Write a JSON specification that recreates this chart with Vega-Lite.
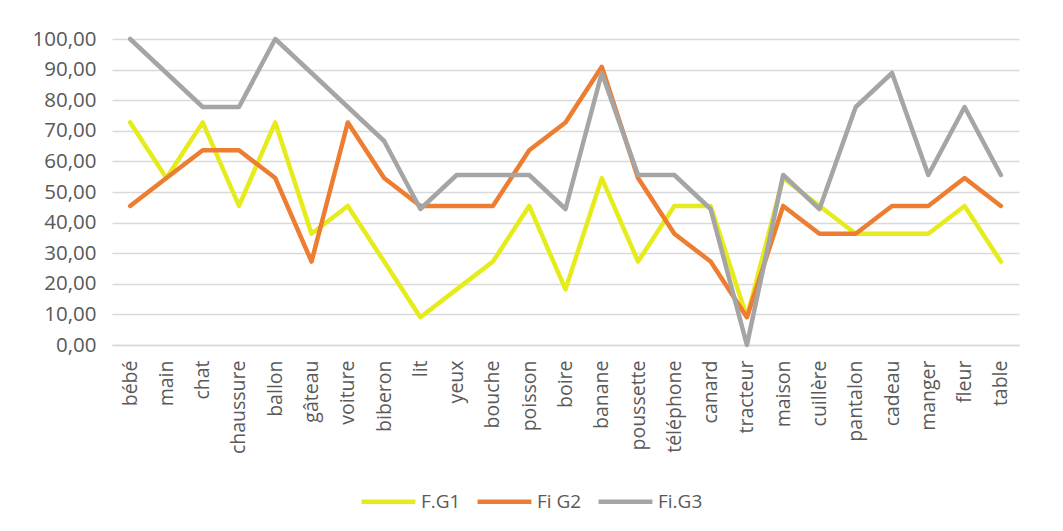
{
  "$schema": "https://vega.github.io/schema/vega-lite/v6.json",
  "width": 907,
  "height": 306,
  "autosize": "none",
  "padding": {"left": 112, "top": 39, "right": 44, "bottom": 186},
  "background": "white",
  "config": {
    "font": "Open Sans",
    "view": {"stroke": null},
    "axis": {"labelColor": "#595959", "labelFont": "Open Sans", "labelFontSize": 19.5, "ticks": false, "title": null}
  },
  "datasets": {
    "d": [
      {"mot": "bébé", "s": "F.G1", "v": 72.73}, {"mot": "bébé", "s": "Fi G2", "v": 45.45}, {"mot": "bébé", "s": "Fi.G3", "v": 100},
      {"mot": "main", "s": "F.G1", "v": 54.55}, {"mot": "main", "s": "Fi G2", "v": 54.55}, {"mot": "main", "s": "Fi.G3", "v": 88.89},
      {"mot": "chat", "s": "F.G1", "v": 72.73}, {"mot": "chat", "s": "Fi G2", "v": 63.64}, {"mot": "chat", "s": "Fi.G3", "v": 77.78},
      {"mot": "chaussure", "s": "F.G1", "v": 45.45}, {"mot": "chaussure", "s": "Fi G2", "v": 63.64}, {"mot": "chaussure", "s": "Fi.G3", "v": 77.78},
      {"mot": "ballon", "s": "F.G1", "v": 72.73}, {"mot": "ballon", "s": "Fi G2", "v": 54.55}, {"mot": "ballon", "s": "Fi.G3", "v": 100},
      {"mot": "gâteau", "s": "F.G1", "v": 36.36}, {"mot": "gâteau", "s": "Fi G2", "v": 27.27}, {"mot": "gâteau", "s": "Fi.G3", "v": 88.89},
      {"mot": "voiture", "s": "F.G1", "v": 45.45}, {"mot": "voiture", "s": "Fi G2", "v": 72.73}, {"mot": "voiture", "s": "Fi.G3", "v": 77.78},
      {"mot": "biberon", "s": "F.G1", "v": 27.27}, {"mot": "biberon", "s": "Fi G2", "v": 54.55}, {"mot": "biberon", "s": "Fi.G3", "v": 66.67},
      {"mot": "lit", "s": "F.G1", "v": 9.09}, {"mot": "lit", "s": "Fi G2", "v": 45.45}, {"mot": "lit", "s": "Fi.G3", "v": 44.44},
      {"mot": "yeux", "s": "F.G1", "v": 18.18}, {"mot": "yeux", "s": "Fi G2", "v": 45.45}, {"mot": "yeux", "s": "Fi.G3", "v": 55.56},
      {"mot": "bouche", "s": "F.G1", "v": 27.27}, {"mot": "bouche", "s": "Fi G2", "v": 45.45}, {"mot": "bouche", "s": "Fi.G3", "v": 55.56},
      {"mot": "poisson", "s": "F.G1", "v": 45.45}, {"mot": "poisson", "s": "Fi G2", "v": 63.64}, {"mot": "poisson", "s": "Fi.G3", "v": 55.56},
      {"mot": "boire", "s": "F.G1", "v": 18.18}, {"mot": "boire", "s": "Fi G2", "v": 72.73}, {"mot": "boire", "s": "Fi.G3", "v": 44.44},
      {"mot": "banane", "s": "F.G1", "v": 54.55}, {"mot": "banane", "s": "Fi G2", "v": 90.91}, {"mot": "banane", "s": "Fi.G3", "v": 88.89},
      {"mot": "poussette", "s": "F.G1", "v": 27.27}, {"mot": "poussette", "s": "Fi G2", "v": 54.55}, {"mot": "poussette", "s": "Fi.G3", "v": 55.56},
      {"mot": "téléphone", "s": "F.G1", "v": 45.45}, {"mot": "téléphone", "s": "Fi G2", "v": 36.36}, {"mot": "téléphone", "s": "Fi.G3", "v": 55.56},
      {"mot": "canard", "s": "F.G1", "v": 45.45}, {"mot": "canard", "s": "Fi G2", "v": 27.27}, {"mot": "canard", "s": "Fi.G3", "v": 44.44},
      {"mot": "tracteur", "s": "F.G1", "v": 9.09}, {"mot": "tracteur", "s": "Fi G2", "v": 9.09}, {"mot": "tracteur", "s": "Fi.G3", "v": 0},
      {"mot": "maison", "s": "F.G1", "v": 54.55}, {"mot": "maison", "s": "Fi G2", "v": 45.45}, {"mot": "maison", "s": "Fi.G3", "v": 55.56},
      {"mot": "cuillère", "s": "F.G1", "v": 45.45}, {"mot": "cuillère", "s": "Fi G2", "v": 36.36}, {"mot": "cuillère", "s": "Fi.G3", "v": 44.44},
      {"mot": "pantalon", "s": "F.G1", "v": 36.36}, {"mot": "pantalon", "s": "Fi G2", "v": 36.36}, {"mot": "pantalon", "s": "Fi.G3", "v": 77.78},
      {"mot": "cadeau", "s": "F.G1", "v": 36.36}, {"mot": "cadeau", "s": "Fi G2", "v": 45.45}, {"mot": "cadeau", "s": "Fi.G3", "v": 88.89},
      {"mot": "manger", "s": "F.G1", "v": 36.36}, {"mot": "manger", "s": "Fi G2", "v": 45.45}, {"mot": "manger", "s": "Fi.G3", "v": 55.56},
      {"mot": "fleur", "s": "F.G1", "v": 45.45}, {"mot": "fleur", "s": "Fi G2", "v": 54.55}, {"mot": "fleur", "s": "Fi.G3", "v": 77.78},
      {"mot": "table", "s": "F.G1", "v": 27.27}, {"mot": "table", "s": "Fi G2", "v": 45.45}, {"mot": "table", "s": "Fi.G3", "v": 55.56}
    ]
  },
  "data": {"name": "d"},
  "mark": {"type": "line", "strokeWidth": 4.5, "strokeCap": "round", "strokeJoin": "round"},
  "encoding": {
    "x": {
      "field": "mot", "type": "nominal", "sort": null,
      "scale": {"type": "point", "padding": 0.5},
      "axis": {"labelAngle": -90, "labelAlign": "right", "labelBaseline": "middle", "labelPadding": 15, "domainColor": "#d9d9d9", "domainWidth": 1.5, "grid": false}
    },
    "y": {
      "field": "v", "type": "quantitative",
      "scale": {"domain": [0, 100], "nice": false},
      "axis": {"values": [0, 10, 20, 30, 40, 50, 60, 70, 80, 90, 100], "labelExpr": "replace(format(datum.value, '.2f'), '.', ',')", "domain": false, "grid": true, "gridColor": "#d9d9d9", "gridWidth": 1.5, "labelPadding": 16, "labelFontSize": 20.5}
    },
    "color": {
      "field": "s", "type": "nominal",
      "scale": {"domain": ["F.G1", "Fi G2", "Fi.G3"], "range": ["#e6ec1c", "#ed7d31", "#a5a5a5"]},
      "legend": {"orient": "none", "legendX": 247, "legendY": 433, "direction": "horizontal", "title": null, "symbolType": "stroke", "symbolStrokeWidth": 4.5, "symbolSize": 2900, "labelFontSize": 19, "labelColor": "#595959", "labelFont": "Open Sans", "labelOffset": 3, "columnPadding": 7}
    }
  }
}
